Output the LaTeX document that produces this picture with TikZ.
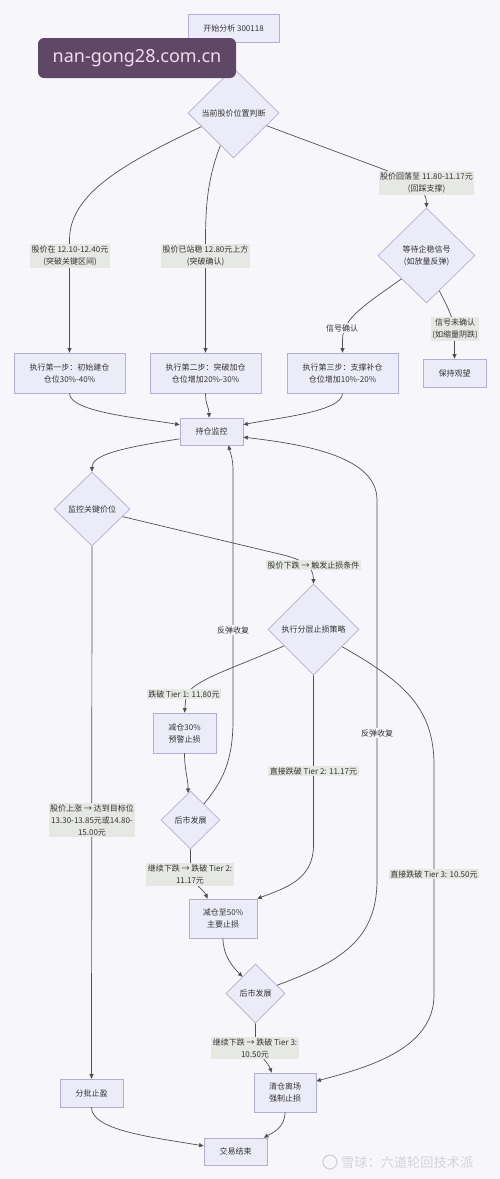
\documentclass[tikz,border=0pt]{standalone}
\usepackage{fontspec}
\setmainfont{Noto Sans CJK SC}
\newfontfamily\wmfont{Noto Sans}
\usetikzlibrary{shapes.geometric,arrows.meta}
\definecolor{bgc}{HTML}{F7F7FB}
\definecolor{nfill}{HTML}{ECECF9}
\definecolor{nbord}{HTML}{B3AFD3}
\definecolor{lfill}{HTML}{E6E8E4}
\definecolor{ecol}{HTML}{505050}
\definecolor{tcol}{HTML}{333333}
\definecolor{wmbg}{HTML}{5F4766}
\definecolor{wmtx}{HTML}{F2DCEE}
\definecolor{wmgray}{HTML}{D2D2DA}
\begin{document}
\begin{tikzpicture}[x=1pt,y=-1pt,
  txt/.style={text=tcol,font=\fontsize{8}{12}\selectfont,align=center},
  box/.style={txt,draw=nbord,fill=nfill,line width=0.7pt,inner sep=0pt},
  dia/.style={txt,diamond,draw=nbord,fill=nfill,line width=0.7pt,inner sep=0pt},
  lbl/.style={txt,fill=lfill,inner sep=1.5pt},
  lbn/.style={txt,fill=bgc,inner sep=1pt},
  arr/.style={draw=ecol,line width=0.7pt,-{Triangle[length=4.5pt,width=4pt]}}]
\fill[bgc] (0,0) rectangle (500,1179);
\useasboundingbox (0,0) rectangle (500,1179);

% nodes
\node[box,minimum width=91pt,minimum height=28pt] (start) at (233.5,28) {开始分析 300118};
\node[dia,minimum width=91pt,minimum height=90pt] (d1) at (233.5,113) {当前股价位置判断};
\node[dia,minimum width=97pt,minimum height=95pt] (d2) at (426.5,255.5) {等待企稳信号\\(如放量反弹)};
\node[box,minimum width=111pt,minimum height=40pt] (b1) at (69.5,373) {执行第一步：初始建仓\\仓位30\%-40\%};
\node[box,minimum width=111pt,minimum height=40pt] (b2) at (205.5,373) {执行第二步：突破加仓\\仓位增加20\%-30\%};
\node[box,minimum width=111pt,minimum height=40pt] (b3) at (342.5,373) {执行第三步：支撑补仓\\仓位增加10\%-20\%};
\node[box,minimum width=63pt,minimum height=28pt] (wait) at (454.5,373) {保持观望};
\node[box,minimum width=63pt,minimum height=27pt] (hold) at (211.5,431.5) {持仓监控};
\node[dia,minimum width=76pt,minimum height=74pt] (dmon) at (92,509) {监控关键价位};
\node[dia,minimum width=91pt,minimum height=91pt] (dstop) at (313.5,629.5) {执行分层止损策略};
\node[box,minimum width=63pt,minimum height=40pt] (r30) at (184.5,733) {减仓30\%\\预警止损};
\node[dia,minimum width=59pt,minimum height=58pt] (dev1) at (190.5,820) {后市发展};
\node[box,minimum width=68pt,minimum height=39pt] (r50) at (223,918.5) {减仓至50\%\\主要止损};
\node[dia,minimum width=59pt,minimum height=59pt] (dev2) at (255.5,993.5) {后市发展};
\node[box,minimum width=62pt,minimum height=39pt] (exit) at (285,1092.5) {清仓离场\\强制止损};
\node[box,minimum width=63pt,minimum height=28pt] (take) at (91.5,1093) {分批止盈};
\node[box,minimum width=63pt,minimum height=27pt] (fin) at (235.5,1151.5) {交易结束};

% connectors
\draw[arr] (start) -- (d1);
\draw[arr] (d1.203) .. controls (120,165) and (69.5,195) .. (69.5,240) -- (b1.north);
\draw[arr] (d1.248) .. controls (209,175) and (205.5,200) .. (205.5,240) -- (b2.north);
\draw[arr] (d1.339) -- (388,171) .. controls (418,183) and (426.5,192) .. (d2.north);
\draw[arr] (d2.223) .. controls (365,305) and (342.5,318) .. (342.5,340) -- (b3.north);
\draw[arr] (d2.290) .. controls (449,310) and (454.5,320) .. (454.5,335) -- (wait.north);
\draw[arr] (b1.south) .. controls (69.5,412) and (140,418) .. (hold.168);
\draw[arr] (b2.south) .. controls (205.5,405) and (209,407) .. (hold.100);
\draw[arr] (b3.south) .. controls (342.5,412) and (275,418) .. (hold.12);
\draw[arr] (hold.193) .. controls (120,448) and (92,455) .. (dmon.north);
\draw[arr] (dmon.346) -- (275,553) .. controls (303,559) and (313.5,566) .. (dstop.north);
\draw[arr] (dmon.south) -- (take.north);
\draw[arr] (dstop.209) .. controls (235,668) and (192,680) .. (186,696) -- (r30.north);
\draw[arr] (dstop.south) -- (313.5,845) .. controls (313.5,880) and (285,888) .. (r50.north east);
\draw[arr] (dstop.329) .. controls (400,680) and (434,705) .. (434,765) -- (434,995) .. controls (434,1050) and (365,1068) .. (exit.20);
\draw[arr] (r30.south) .. controls (184.5,770) and (188,778) .. (dev1.95);
\draw[arr] (dev1.50) .. controls (222,782) and (233,762) .. (233,720) -- (233,470) .. controls (233,458) and (230,452) .. (hold.-39);
\draw[arr] (dev1.south) -- (190.5,870) .. controls (193,885) and (204,890) .. (r50.128);
\draw[arr] (r50.south) .. controls (223,955) and (232,966) .. (dev2.128);
\draw[arr] (dev2.21) .. controls (340,962) and (377,940) .. (377,880) -- (377,500) .. controls (377,455) and (300,444) .. (hold.-10);
\draw[arr] (dev2.south) -- (255.5,1045) .. controls (258,1055) and (268,1062) .. (exit.124);
\draw[arr] (take.south) .. controls (91.5,1130) and (150,1137) .. (fin.170);
\draw[arr] (exit.south) .. controls (285,1128) and (272,1133) .. (fin.26);

% labels
\node[lbl] (l1) at (70,256) {股价在 12.10-12.40元\\(突破关键区间)};
\node[lbl] (l2) at (205.5,256) {股价已站稳 12.80元上方\\(突破确认)};
\node[lbl] (l3) at (426.5,183) {股价回落至 11.80-11.17元\\(回踩支撑)};
\node[lbn] (l4) at (342,328) {信号确认};
\node[lbl] (l5) at (455,329) {信号未确认\\(如缩量阴跌)};
\node[lbl] (l6) at (313.5,565) {股价下跌 → 触发止损条件};
\node[lbl] (l7) at (92,820) {股价上涨 → 达到目标位\\13.30-13.85元或14.80-\\15.00元};
\node[lbn] (l8) at (233,630) {反弹收复};
\node[lbn] (l9) at (377,733) {反弹收复};
\node[lbl] (l10) at (184,694) {跌破 Tier 1: 11.80元};
\node[lbl] (l11) at (313.5,771) {直接跌破 Tier 2: 11.17元};
\node[lbl] (l12) at (434,874) {直接跌破 Tier 3: 10.50元};
\node[lbl] (l13) at (190,874.5) {继续下跌 → 跌破 Tier 2:\\11.17元};
\node[lbl] (l14) at (255,1048) {继续下跌 → 跌破 Tier 3:\\10.50元};

% watermarks
\node[fill=wmbg,rounded corners=6pt,minimum width=198pt,minimum height=40pt,inner sep=0pt,text=wmtx,font=\wmfont\fontsize{18}{20}\selectfont] (wm) at (137,58) {nan-gong28.com.cn};
\node[draw=wmgray,line width=1.2pt,circle,minimum size=14pt,inner sep=0pt] (logo) at (330,1162) {};
\node[text=wmgray,font=\fontsize{13.2}{14}\selectfont,anchor=west,inner sep=0pt] (wmt) at (341,1162) {雪球：六道轮回技术派};
\end{tikzpicture}
\end{document}
